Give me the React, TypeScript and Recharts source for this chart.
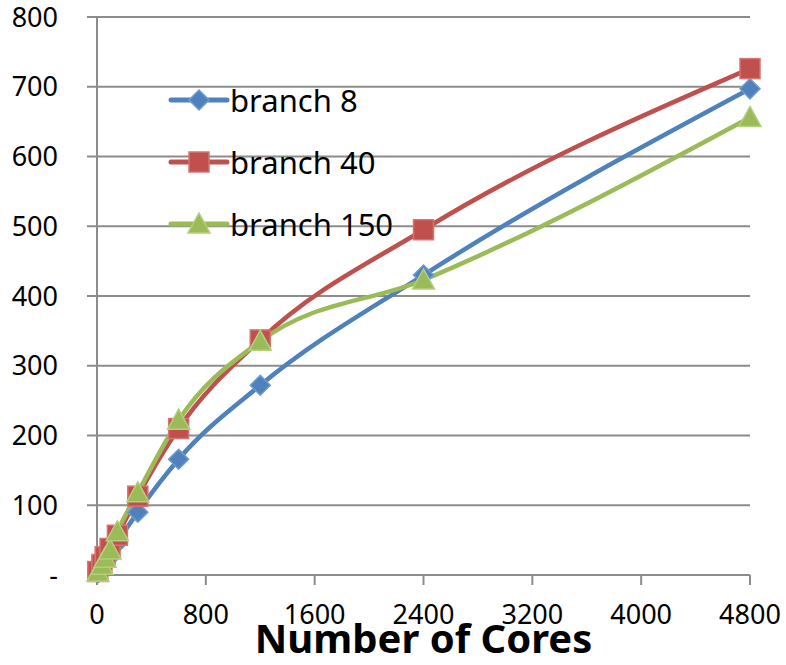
import React from 'react';
import { LineChart, Line, XAxis, YAxis, CartesianGrid, Label } from 'recharts';

const cores = [6, 36, 60, 96, 150, 300, 600, 1200, 2400, 4800];
const branch8 = [3, 10, 17, 26, 46, 90, 166, 272, 430, 697];
const branch40 = [5, 15, 26, 38, 57, 113, 210, 337, 495, 726];
const branch150 = [4, 14, 24, 36, 62, 118, 222, 335, 423, 656];
const xTicks = [0, 800, 1600, 2400, 3200, 4000, 4800];
const yTicks = [0, 100, 200, 300, 400, 500, 600, 700, 800];
const seriesNames = ['branch 8', 'branch 40', 'branch 150'];
const xTitle = 'Number of Cores';

const COLORS = ['#4F81BD', '#C0504D', '#9BBB59'];
const STROKES = ['#6E9AD0', '#D57471', '#B3CF7A'];
const FONT = '"Noto Sans", "Open Sans", sans-serif';

const data = cores.map((c, i) => ({
  cores: c,
  b8: branch8[i],
  b40: branch40[i],
  b150: branch150[i],
}));

function Marker({ kind, cx, cy }: { kind: number; cx: number; cy: number }) {
  if (cx == null || cy == null) return null;
  if (kind === 0) {
    const r = 10;
    return (
      <polygon
        points={`${cx},${cy - r} ${cx + r},${cy} ${cx},${cy + r} ${cx - r},${cy}`}
        fill={COLORS[0]}
        stroke={STROKES[0]}
        strokeWidth={1.5}
      />
    );
  }
  if (kind === 1) {
    const h = 10;
    return (
      <rect x={cx - h} y={cy - h} width={2 * h} height={2 * h} fill={COLORS[1]} stroke={STROKES[1]} strokeWidth={1.5} />
    );
  }
  const w = 11;
  return (
    <polygon
      points={`${cx},${cy - 11} ${cx + w},${cy + 9} ${cx - w},${cy + 9}`}
      fill={COLORS[2]}
      stroke={STROKES[2]}
      strokeWidth={1.5}
    />
  );
}

const makeDot = (kind: number) => (props: any) => (
  <Marker key={`${kind}-${props.index}`} kind={kind} cx={props.cx} cy={props.cy} />
);

function LegendBox() {
  return (
    <div style={{ position: 'absolute', left: 168, top: 69, width: 300 }}>
      {seriesNames.map((name, i) => (
        <div key={name} style={{ height: 62, display: 'flex', alignItems: 'center' }}>
          <svg width={62} height={30} style={{ display: 'block' }}>
            <line x1={3} y1={15} x2={59} y2={15} stroke={COLORS[i]} strokeWidth={5} strokeLinecap="round" />
            <Marker kind={i} cx={31} cy={15} />
          </svg>
          <span style={{ fontFamily: FONT, fontSize: 31, color: '#000', lineHeight: 1 }}>{name}</span>
        </div>
      ))}
    </div>
  );
}

export default function App() {
  return (
    <div style={{ position: 'absolute', left: 0, top: 0, width: 786, height: 665, background: '#fff' }}>
      <LineChart width={786} height={665} data={data} margin={{ top: 17, right: 36, bottom: 0, left: 0 }}>
        <CartesianGrid vertical={false} stroke="#8C8C8C" strokeWidth={2} />
        <XAxis
          dataKey="cores"
          type="number"
          domain={[0, 4800]}
          ticks={xTicks}
          interval={0}
          height={90}
          tickSize={10}
          tickMargin={20}
          stroke="#8C8C8C"
          strokeWidth={2}
          tick={{ fill: '#000', fontFamily: FONT, fontSize: 27 }}
        >
          <Label
            value={xTitle}
            position="bottom"
            offset={-40}
            style={{ fontFamily: FONT, fontSize: 40, fontWeight: 700, fill: '#000' }}
          />
        </XAxis>
        <YAxis
          type="number"
          domain={[0, 800]}
          ticks={yTicks}
          interval={0}
          width={97}
          tickSize={10}
          tickMargin={29}
          stroke="#8C8C8C"
          strokeWidth={2}
          tickFormatter={(v: number) => (v === 0 ? '-' : String(v))}
          tick={{ fill: '#000', fontFamily: FONT, fontSize: 27 }}
        />
        <Line type="monotone" dataKey="b8" name={seriesNames[0]} stroke={COLORS[0]} strokeWidth={4.5} dot={makeDot(0)} isAnimationActive={false} />
        <Line type="monotone" dataKey="b40" name={seriesNames[1]} stroke={COLORS[1]} strokeWidth={4.5} dot={makeDot(1)} isAnimationActive={false} />
        <Line type="monotone" dataKey="b150" name={seriesNames[2]} stroke={COLORS[2]} strokeWidth={4.5} dot={makeDot(2)} isAnimationActive={false} />
      </LineChart>
      <LegendBox />
    </div>
  );
}
